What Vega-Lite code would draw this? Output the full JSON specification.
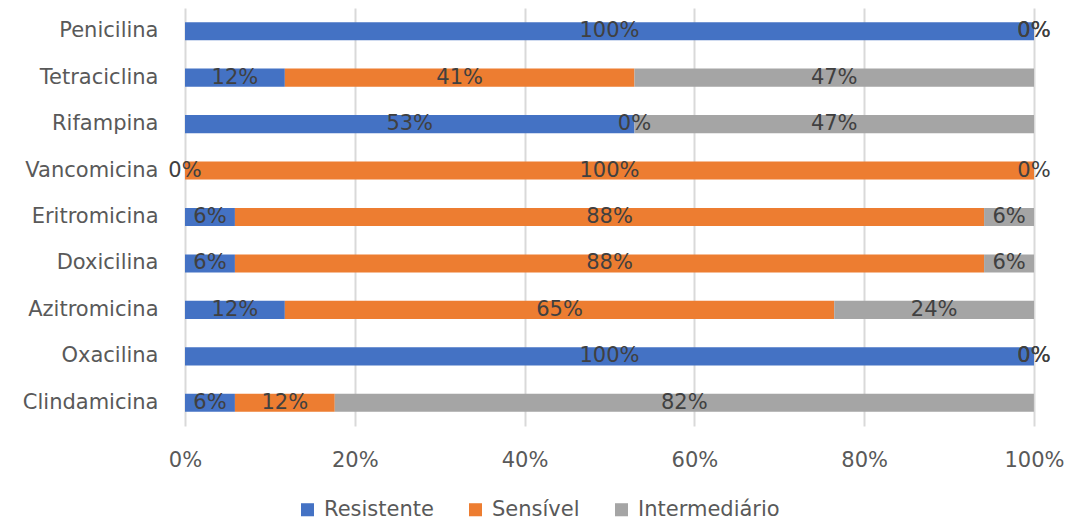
{
  "$schema": "https://vega.github.io/schema/vega-lite/v6.json",
  "autosize": {"type": "none"},
  "width": 849,
  "height": 418,
  "padding": {"left": 185, "top": 8, "right": 36, "bottom": 96},
  "background": "#ffffff",
  "config": {
    "view": {"stroke": null},
    "font": "DejaVu Sans",
    "text": {"font": "DejaVu Sans"}
  },
  "data": {
    "values": [
      {"antibiotico": "Penicilina", "perfil": "Resistente", "ordem": 1, "valor": 100, "rotulo": "100%"},
      {"antibiotico": "Penicilina", "perfil": "Sensível", "ordem": 2, "valor": 0, "rotulo": "0%"},
      {"antibiotico": "Penicilina", "perfil": "Intermediário", "ordem": 3, "valor": 0, "rotulo": "0%"},
      {"antibiotico": "Tetraciclina", "perfil": "Resistente", "ordem": 1, "valor": 11.76, "rotulo": "12%"},
      {"antibiotico": "Tetraciclina", "perfil": "Sensível", "ordem": 2, "valor": 41.18, "rotulo": "41%"},
      {"antibiotico": "Tetraciclina", "perfil": "Intermediário", "ordem": 3, "valor": 47.06, "rotulo": "47%"},
      {"antibiotico": "Rifampina", "perfil": "Resistente", "ordem": 1, "valor": 52.94, "rotulo": "53%"},
      {"antibiotico": "Rifampina", "perfil": "Sensível", "ordem": 2, "valor": 0, "rotulo": "0%"},
      {"antibiotico": "Rifampina", "perfil": "Intermediário", "ordem": 3, "valor": 47.06, "rotulo": "47%"},
      {"antibiotico": "Vancomicina", "perfil": "Resistente", "ordem": 1, "valor": 0, "rotulo": "0%"},
      {"antibiotico": "Vancomicina", "perfil": "Sensível", "ordem": 2, "valor": 100, "rotulo": "100%"},
      {"antibiotico": "Vancomicina", "perfil": "Intermediário", "ordem": 3, "valor": 0, "rotulo": "0%"},
      {"antibiotico": "Eritromicina", "perfil": "Resistente", "ordem": 1, "valor": 5.88, "rotulo": "6%"},
      {"antibiotico": "Eritromicina", "perfil": "Sensível", "ordem": 2, "valor": 88.24, "rotulo": "88%"},
      {"antibiotico": "Eritromicina", "perfil": "Intermediário", "ordem": 3, "valor": 5.88, "rotulo": "6%"},
      {"antibiotico": "Doxicilina", "perfil": "Resistente", "ordem": 1, "valor": 5.88, "rotulo": "6%"},
      {"antibiotico": "Doxicilina", "perfil": "Sensível", "ordem": 2, "valor": 88.24, "rotulo": "88%"},
      {"antibiotico": "Doxicilina", "perfil": "Intermediário", "ordem": 3, "valor": 5.88, "rotulo": "6%"},
      {"antibiotico": "Azitromicina", "perfil": "Resistente", "ordem": 1, "valor": 11.76, "rotulo": "12%"},
      {"antibiotico": "Azitromicina", "perfil": "Sensível", "ordem": 2, "valor": 64.71, "rotulo": "65%"},
      {"antibiotico": "Azitromicina", "perfil": "Intermediário", "ordem": 3, "valor": 23.53, "rotulo": "24%"},
      {"antibiotico": "Oxacilina", "perfil": "Resistente", "ordem": 1, "valor": 100, "rotulo": "100%"},
      {"antibiotico": "Oxacilina", "perfil": "Sensível", "ordem": 2, "valor": 0, "rotulo": "0%"},
      {"antibiotico": "Oxacilina", "perfil": "Intermediário", "ordem": 3, "valor": 0, "rotulo": "0%"},
      {"antibiotico": "Clindamicina", "perfil": "Resistente", "ordem": 1, "valor": 5.88, "rotulo": "6%"},
      {"antibiotico": "Clindamicina", "perfil": "Sensível", "ordem": 2, "valor": 11.76, "rotulo": "12%"},
      {"antibiotico": "Clindamicina", "perfil": "Intermediário", "ordem": 3, "valor": 82.35, "rotulo": "82%"}
    ]
  },
  "transform": [
    {"stack": "valor", "groupby": ["antibiotico"], "sort": [{"field": "ordem", "order": "ascending"}], "as": ["x0", "x1"]},
    {"calculate": "(datum.x0 + datum.x1) / 2", "as": "xm"}
  ],
  "encoding": {
    "y": {
      "field": "antibiotico",
      "type": "nominal",
      "sort": ["Penicilina", "Tetraciclina", "Rifampina", "Vancomicina", "Eritromicina", "Doxicilina", "Azitromicina", "Oxacilina", "Clindamicina"],
      "scale": {"paddingInner": 0.61, "paddingOuter": 0.305},
      "axis": {
        "title": null,
        "domain": false,
        "ticks": false,
        "labelFontSize": 21,
        "labelColor": "#595959",
        "labelPadding": 27,
        "labelFont": "DejaVu Sans"
      }
    }
  },
  "layer": [
    {
      "mark": {"type": "bar"},
      "encoding": {
        "x": {
          "field": "x0",
          "type": "quantitative",
          "scale": {"domain": [0, 100], "nice": false},
          "axis": {
            "title": null,
            "values": [0, 20, 40, 60, 80, 100],
            "labelExpr": "datum.value + '%'",
            "domain": false,
            "ticks": false,
            "grid": true,
            "gridColor": "#d9d9d9",
            "gridWidth": 2,
            "labelFontSize": 21,
            "labelColor": "#595959",
            "labelPadding": 23,
            "labelFont": "DejaVu Sans",
            "labelFlush": false
          }
        },
        "x2": {"field": "x1"},
        "color": {
          "field": "perfil",
          "type": "nominal",
          "sort": ["Resistente", "Sensível", "Intermediário"],
          "scale": {"domain": ["Resistente", "Sensível", "Intermediário"], "range": ["#4472C4", "#ED7D31", "#A5A5A5"]},
          "legend": {
            "title": null,
            "orient": "none",
            "direction": "horizontal",
            "legendX": 112,
            "legendY": 491,
            "symbolType": "square",
            "symbolSize": 170,
            "symbolStrokeWidth": 0,
            "labelFontSize": 21,
            "labelColor": "#595959",
            "labelFont": "DejaVu Sans",
            "columnPadding": 31,
            "labelOffset": 6
          }
        }
      }
    },
    {
      "mark": {"type": "text", "fontSize": 21, "color": "#404040", "align": "center", "baseline": "middle", "font": "DejaVu Sans"},
      "encoding": {
        "x": {"field": "xm", "type": "quantitative"},
        "text": {"field": "rotulo", "type": "nominal"}
      }
    }
  ]
}
